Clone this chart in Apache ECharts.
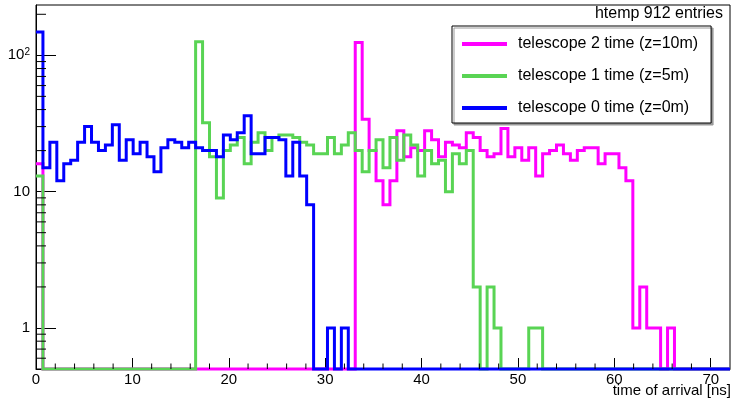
<!DOCTYPE html>
<html><head><meta charset="utf-8">
<script src="https://cdn.jsdelivr.net/npm/echarts@6/dist/echarts.min.js"></script>
<style>html,body{margin:0;padding:0;background:#fff}#c{width:734px;height:401px}</style>
</head><body><div id="c"></div>
<script>
// ---- data (100 bins of 0.72 ns from 0 to 72 ns) ----
const binWidth = 0.72;
const xMin = 0, xMax = 72;
const yMin = 0.5, yMax = 234;
const seriesNames = ['telescope 2 time (z=10m)', 'telescope 1 time (z=5m)', 'telescope 0 time (z=0m)'];
const seriesColors = ['#ff00ff', '#59d454', '#0000ff'];
// telescope 2 (z=10m)
const tel2 = [16,0,0,0,0,0,0,0,0,0, 0,0,0,0,0,0,0,0,0,0, 0,0,0,0,0,0,0,0,0,0,
  0,0,0,0,0,0,0,0,0,0, 0,0,0,0,0,0,124,34,20,12, 8,12,28,18,21,20,28,24,18,23,
  22,21,27,25,20,18,19,29,18,21, 17,21,13,19,20,22,19,17,20,21, 21,16,19,19,15,12,1,2,1,1,
  0,1,0,0,0,0,0,0,0,0];
// telescope 1 (z=5m)
const tel1 = [13,0,0,0,0,0,0,0,0,0, 0,0,0,0,0,0,0,0,0,0, 0,0,0,126,32,18,9,20,22,25,
  16,23,27,20,25,26,26,25,23,22, 19,19,25,19,22,27,20,14,20,24, 15,25,17,26,22,13,20,16,17,10,
  19,16,20,2,0,2,1,0,0,0, 0,1,1,0,0,0,0,0,0,0, 0,0,0,0,0,0,0,0,0,0,
  0,0,0,0,0,0,0,0,0,0];
// telescope 0 (z=0m)
const tel0 = [148,15,23,12,16,17,23,30,23,20, 22,31,17,24,19,23,18,14,21,24, 23,21,23,21,20,20,18,26,24,27,
  36,19,19,25,25,24,13,23,13,8, 0,0,1,0,1,0,0,0,0,0, 0,0,0,0,0,0,0,0,0,0,
  0,0,0,0,0,0,0,0,0,0, 0,0,0,0,0,0,0,0,0,0, 0,0,0,0,0,0,0,0,0,0,
  0,0,0,0,0,0,0,0,0,0];
const xMajorInterval = 10;
const xMinorTickValues = [2,4,6,8,12,14,16,18,22,24,26,28,32,34,36,38,42,44,46,48,52,54,56,58,62,64,66,68];
const yMinorTickValues = [0.6,0.7,0.8,0.9,2,3,4,5,6,7,8,9,20,30,40,50,60,70,80,90,200];
const titleText = 'htemp 912 entries';
const xAxisTitle = 'time of arrival [ns]';

// ---- build ----
const FONT = "'Liberation Sans', Arial, Helvetica, sans-serif";
function steps(counts) {
  const pts = [];
  counts.forEach((c, i) => {
    const y = c > 0 ? c : yMin; // empty bins drawn on the frame floor, as ROOT does
    pts.push([+(i * binWidth).toFixed(4), y], [+((i + 1) * binWidth).toFixed(4), y]);
  });
  return pts;
}
const counts = [tel2, tel1, tel0];
const histSeries = counts.map((c, k) => ({
  type: 'line', name: seriesNames[k], data: steps(c),
  showSymbol: false, symbol: 'none', clip: false, silent: true, z: 2,
  lineStyle: { width: 3, color: seriesColors[k], join: 'miter', cap: 'butt' },
  itemStyle: { color: seriesColors[k] }
}));
const yMinorSeries = {
  type: 'custom', silent: true, clip: false, z: 6,
  data: yMinorTickValues.map(v => [xMin, v]),
  encode: { x: 0, y: 1 },
  renderItem: (params, api) => {
    const p = api.coord([api.value(0), api.value(1)]);
    return { type: 'line', shape: { x1: p[0], y1: p[1], x2: p[0] + 10, y2: p[1] }, style: { stroke: '#000', lineWidth: 1 } };
  }
};
const xMinorSeries = {
  type: 'custom', silent: true, clip: false, z: 6,
  data: xMinorTickValues.map(v => [v, yMin]),
  encode: { x: 0, y: 1 },
  renderItem: (params, api) => {
    const p = api.coord([api.value(0), api.value(1)]);
    return { type: 'line', shape: { x1: p[0], y1: p[1], x2: p[0], y2: p[1] - 5.5 }, style: { stroke: '#000', lineWidth: 1 } };
  }
};

const chart = echarts.init(document.getElementById('c'), null, { renderer: 'canvas' });
chart.setOption({
  animation: false,
  backgroundColor: '#fff',
  title: [{
    text: titleText, right: 11, top: 6, padding: 0,
    textStyle: { fontSize: 16, fontWeight: 'normal', color: '#000', fontFamily: FONT }
  }, {
    text: xAxisTitle, right: 3, top: 383, padding: 0,
    textStyle: { fontSize: 15, fontWeight: 'normal', color: '#000', fontFamily: FONT }
  }],
  legend: {
    data: seriesNames, orient: 'vertical', left: 452, top: 26,
    padding: [10, 13, 7, 10], itemGap: 16, itemWidth: 45, itemHeight: 4, icon: 'rect',
    backgroundColor: '#fff', borderColor: '#000', borderWidth: 1,
    shadowColor: '#9a9a9a', shadowOffsetX: 2, shadowOffsetY: 2, shadowBlur: 0,
    selectedMode: false,
    textStyle: { fontSize: 16, color: '#000', fontFamily: FONT, padding: [0, 0, 0, 6] }
  },
  grid: { left: 36, right: 4, top: 5, bottom: 32, containLabel: false, outerBoundsMode: 'none',
    show: true, borderColor: '#000', borderWidth: 1, backgroundColor: 'transparent' },
  xAxis: {
    type: 'value', min: xMin, max: xMax, interval: xMajorInterval,
    axisLine: { show: true, lineStyle: { color: '#000', width: 1 } },
    axisTick: { show: true, inside: true, length: 11, lineStyle: { color: '#000' } },
    splitLine: { show: false },
    axisLabel: { color: '#000', fontSize: 15, fontFamily: FONT, margin: 3, showMaxLabel: false,
      formatter: v => (Math.abs(v % 10) < 1e-9 ? String(v) : '') }
  },
  yAxis: {
    type: 'log', logBase: 10, min: yMin, max: yMax,
    axisLine: { show: true, lineStyle: { color: '#000', width: 1 } },
    axisTick: { show: true, inside: true, length: 20, lineStyle: { color: '#000' } },
    splitLine: { show: false }, minorTick: { show: false },
    axisLabel: {
      color: '#000', fontSize: 15, fontFamily: FONT, margin: 6, showMinLabel: false, showMaxLabel: false,
      formatter: v => {
        const l = Math.log10(v), r = Math.round(l);
        if (Math.abs(l - r) > 1e-6) return '';
        if (r === 2) return '10{s|2}';
        return String(Math.round(v));
      },
      rich: { s: { fontSize: 10, verticalAlign: 'top', fontFamily: FONT, color: '#000', padding: [0, 0, 6, 0] } }
    }
  },
  series: [...histSeries, yMinorSeries, xMinorSeries]
});
</script></body></html>
